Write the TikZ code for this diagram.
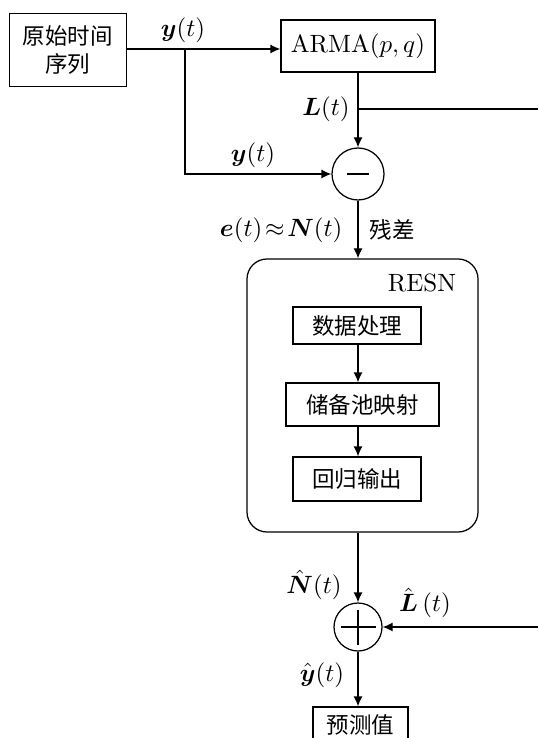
\documentclass[tikz,border=0pt]{standalone}
\usepackage{amsmath}
\usepackage{fontspec}
\newfontfamily\cjk{Noto Sans CJK SC}[Scale=0.9]
\usetikzlibrary{arrows.meta,calc}
\begin{document}
\begin{tikzpicture}[x=0.4pt,y=-0.4pt,
  line width=0.5pt,
  arr/.style={-{Latex[length=4pt,width=3.6pt]}},
  box/.style={draw,inner sep=0pt,align=center,font=\cjk},
  sumnode/.style={draw,circle,inner sep=0pt},
  lbl/.style={inner sep=0pt}]
\path[use as bounding box] (0,0) rectangle (538,738);
\clip (0,0) rectangle (538,738);
% nodes
\node[box,minimum width=46.8pt,minimum height=29.2pt,font={\cjk\baselineskip=11pt}] (src) at (67.7,50) {原始时间\\序列};
\node[box,minimum width=61.6pt,minimum height=20.8pt,font=\normalfont] (arma) at (358,46) {ARMA$(p,q)$};
\node[sumnode,minimum size=20.8pt] (minus) at (358,174) {};
\draw (minus.center) ++(-11,0) -- ++(22,0);
\node[draw,rounded corners=8pt,minimum width=92.4pt,minimum height=109.2pt,inner sep=0pt] (resn) at (362.5,395.5) {};
\node[lbl] (resnlbl) at (422,283) {RESN};
\node[box,minimum width=51.2pt,minimum height=14.8pt] (b1) at (357,325.5) {数据处理};
\node[box,minimum width=61.2pt,minimum height=17.2pt] (b2) at (362.5,404.5) {储备池映射};
\node[box,minimum width=51.2pt,minimum height=17.6pt] (b3) at (357,479) {回归输出};
\node[sumnode,minimum size=19.2pt] (plus) at (358,627) {};
\draw (plus.center) ++(-17.5,0) -- ++(35,0);
\draw (plus.center) ++(0,-17.5) -- ++(0,35);
\node[box,minimum width=38pt,minimum height=14.4pt] (out) at (360.5,725) {预测值};
% coordinates
\coordinate (split) at (185,49);
\coordinate (jL) at (358,109);
% connectors
\draw[arr] (src.east |- split) -- (split -| arma.west);
\draw[arr] (split) |- (minus.west);
\draw[arr] (arma.south) -- (minus.north);
\draw[arr] (jL) -- ++(260,0) |- (plus.east);
\draw[arr] (minus.south) -- (minus.south |- resn.north);
\draw[arr] (b1.south -| minus.south) -- (b2.north -| minus.south);
\draw[arr] (b2.south -| minus.south) -- (b3.north -| minus.south);
\draw[arr] (resn.south -| plus.north) -- (plus.north);
\draw[arr] (plus.south) -- (plus.south |- out.north);
% labels
\node[lbl] (ly1) at (183,30) {$\boldsymbol{y}(t)$};
\node[lbl] (ly2) at (253,155) {$\boldsymbol{y}(t)$};
\node[lbl] (lL) at (326,109) {$\boldsymbol{L}(t)$};
\node[lbl,anchor=east] (le) at (343,230) {$\boldsymbol{e}(t)\!\approx\!\boldsymbol{N}(t)$};
\node[lbl,font=\cjk] (lres) at (392,230) {残差};
\node[lbl] (lN) at (314,585) {$\hat{\boldsymbol{N}}(t)$};
\node[lbl] (lLh) at (425,603) {$\hat{\boldsymbol{L}}\,(t)$};
\node[lbl] (lyh) at (322,675) {$\hat{\boldsymbol{y}}(t)$};
\end{tikzpicture}
\end{document}
